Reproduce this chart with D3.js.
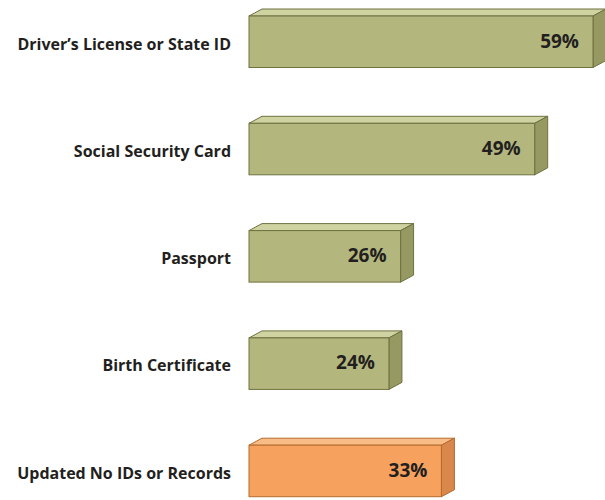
<!DOCTYPE html>
<html>
<head>
<meta charset="utf-8">
<script src="https://cdn.jsdelivr.net/npm/d3@7"></script>
<style>
  body { margin: 0; background: #fff; }
  svg text { font-family: "Open Sans", "Noto Sans", sans-serif; font-weight: 700; fill: #231f20; }
</style>
</head>
<body>
<svg id="chart"></svg>
<script>
// data
const categories = ["Driver\u2019s License or State ID", "Social Security Card", "Passport", "Birth Certificate", "Updated No IDs or Records"];
const values = [59, 49, 26, 24, 33];
const highlight = [false, false, false, false, true];

const width = 605, height = 500;
const depthX = 13, depthY = 7;

const svg = d3.select("#chart").attr("width", width).attr("height", height);

const x = d3.scaleLinear().domain([0, 59]).range([249, 593]);
const y = d3.scaleBand()
  .domain(categories)
  .range([16, 496.7])
  .paddingInner(0.52)
  .paddingOuter(0)
  .align(0);

const green = { front: "#b3b77e", top: "#cfd3a1", side: "#969a62", stroke: "#6e7140" };
const orange = { front: "#f6a15d", top: "#f8bd86", side: "#d9874b", stroke: "#b56a2f" };

const rows = categories.map((c, i) => ({ cat: c, value: values[i], hl: highlight[i] }));

const bar = svg.selectAll("g.bar")
  .data(rows)
  .enter()
  .append("g")
  .attr("class", "bar");

// top face
bar.append("path")
  .attr("d", d => {
    const x0 = x(0), x1 = x(d.value), y0 = y(d.cat);
    return "M" + x0 + "," + y0 + "L" + (x0 + depthX) + "," + (y0 - depthY) +
      "L" + (x1 + depthX) + "," + (y0 - depthY) + "L" + x1 + "," + y0 + "Z";
  })
  .attr("fill", d => (d.hl ? orange : green).top)
  .attr("stroke", d => (d.hl ? orange : green).stroke)
  .attr("stroke-width", 1)
  .attr("stroke-linejoin", "round");

// side face
bar.append("path")
  .attr("d", d => {
    const x1 = x(d.value), y0 = y(d.cat), y1 = y0 + y.bandwidth();
    return "M" + x1 + "," + y0 + "L" + (x1 + depthX) + "," + (y0 - depthY) +
      "L" + (x1 + depthX) + "," + (y1 - depthY) + "L" + x1 + "," + y1 + "Z";
  })
  .attr("fill", d => (d.hl ? orange : green).side)
  .attr("stroke", d => (d.hl ? orange : green).stroke)
  .attr("stroke-width", 1)
  .attr("stroke-linejoin", "round");

// front face
bar.append("rect")
  .attr("x", x(0))
  .attr("y", d => y(d.cat))
  .attr("width", d => x(d.value) - x(0))
  .attr("height", y.bandwidth())
  .attr("fill", d => (d.hl ? orange : green).front)
  .attr("stroke", d => (d.hl ? orange : green).stroke)
  .attr("stroke-width", 1);

// value labels
bar.append("text")
  .attr("x", d => x(d.value) - 14)
  .attr("y", d => y(d.cat) + y.bandwidth() / 2 - 1)
  .attr("dy", "0.36em")
  .attr("text-anchor", "end")
  .style("font-size", "19px")
  .text(d => d.value + "%");

// category labels
bar.append("text")
  .attr("x", 231)
  .attr("y", d => y(d.cat) + y.bandwidth() / 2 + 2)
  .attr("dy", "0.36em")
  .attr("text-anchor", "end")
  .style("font-size", "16px")
  .text(d => d.cat);
</script>
</body>
</html>
